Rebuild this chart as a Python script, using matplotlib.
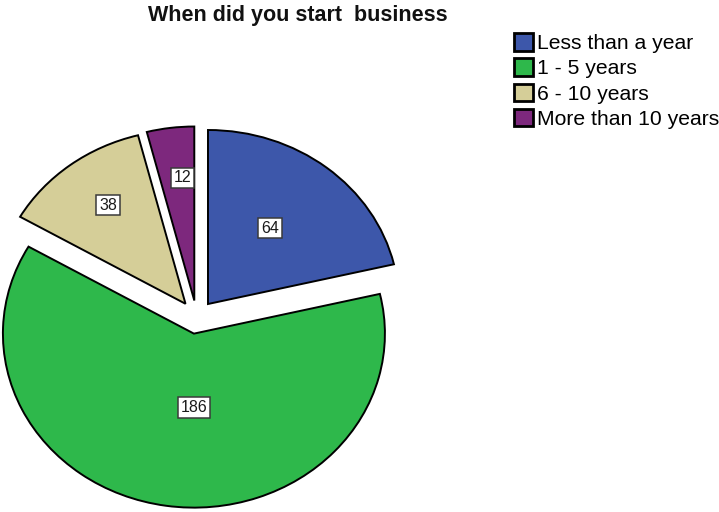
import matplotlib
matplotlib.use("Agg")
import matplotlib.pyplot as plt
import numpy as np

plt.rcParams['font.family'] = ['Liberation Sans', 'DejaVu Sans']

categories = ["Less than a year", "1 - 5 years", "6 - 10 years", "More than 10 years"]
counts = [64, 186, 38, 12]
colors = ["#3d57aa", "#2eb84b", "#d5ce98", "#7d287d"]
explode = [0.096, 0.096, 0.096, 0.096]
# count label placement: distance from the slice tip (radius units) and
# a small turn (degrees) away from the slice's mid-angle
label_dist = [0.544, 0.425, 0.698, 0.707]
label_turn = [1.8, 8.4, -1.6, -2.1]

W, H = 719, 512
fig = plt.figure(figsize=(W / 100, H / 100), dpi=100)
ax = fig.add_axes([0, 0, 1, 1])

wedges, _ = ax.pie(counts, colors=colors, explode=explode, startangle=90,
                   counterclock=False, radius=1.0,
                   wedgeprops=dict(edgecolor="black", linewidth=1.4))

# slightly elliptical pie: horizontal radius 191 px, vertical 174 px
cx, cy = 196.6, H - 317.1
rx, ry = 191.0, 174.0
ax.set_aspect('auto')
ax.set_xlim(-cx / rx, (W - cx) / rx)
ax.set_ylim(-cy / ry, (H - cy) / ry)
ax.axis('off')

for w, n, d, t in zip(wedges, counts, label_dist, label_turn):
    tm = np.deg2rad(0.5 * (w.theta1 + w.theta2) + t)
    x0, y0 = w.center
    ax.text(x0 + d * np.cos(tm), y0 + d * np.sin(tm), str(n),
            ha='center', va='center', fontsize=11.5, color='#1a1a1a',
            bbox=dict(boxstyle='square,pad=0.18', fc='white', ec='#3a3a3a', lw=1.1))

fig.text(298 / W, 1 - 16 / H, "When did you start  business", ha='center', va='center',
         fontsize=15.5, fontweight='bold', color='#111111')

leg = fig.legend(wedges, categories, loc='upper left', bbox_to_anchor=(514 / W, 1 - 33 / H),
                 frameon=False, fontsize=15.2, handlelength=0.9, handleheight=0.9,
                 handletextpad=0.2, labelspacing=0.25, borderpad=0, borderaxespad=0)
for h in leg.legend_handles:
    h.set_linewidth(2.0)

fig.savefig("out.png", dpi=100)
